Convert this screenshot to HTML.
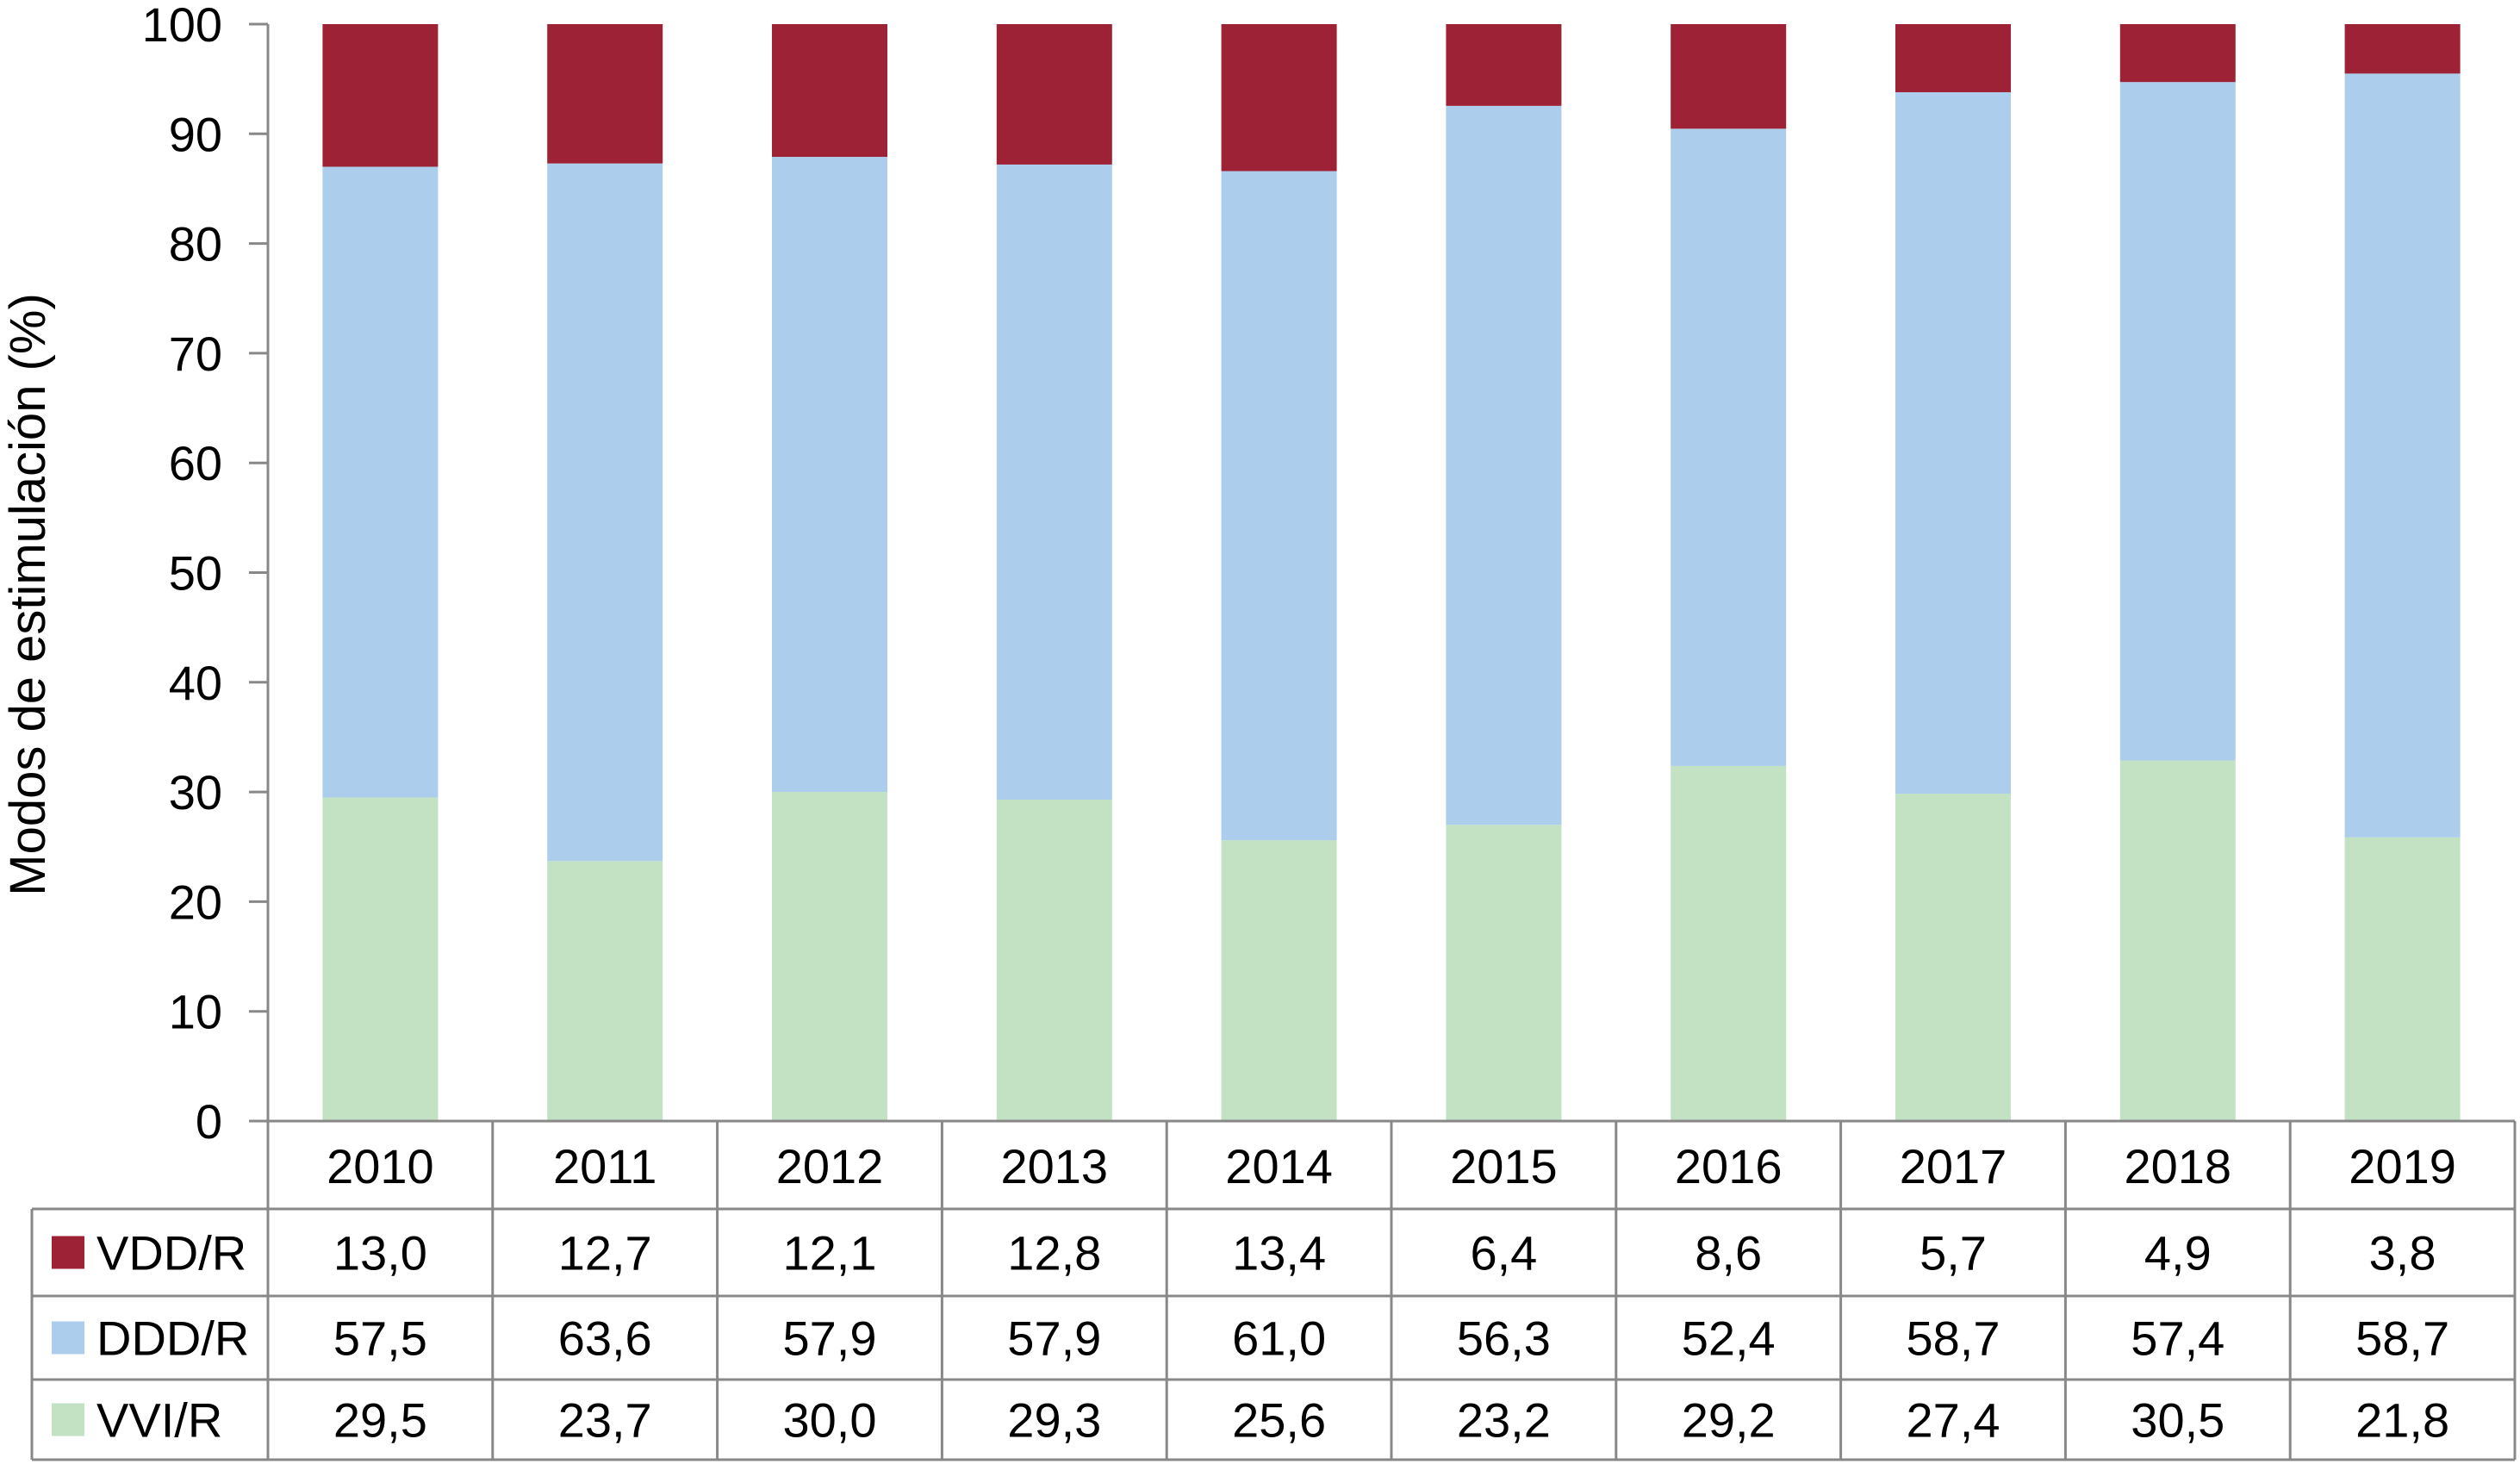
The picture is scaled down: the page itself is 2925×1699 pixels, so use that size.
<!DOCTYPE html>
<html><head><meta charset="utf-8"><style>
html,body{margin:0;padding:0;background:#fff;}
svg{display:block;font-family:"Liberation Sans",sans-serif;}
</style></head><body>
<svg id="chart" width="2925" height="1699" viewBox="0 0 2925 1699" xmlns="http://www.w3.org/2000/svg">
<text transform="translate(52,690) rotate(-90)" text-anchor="middle" font-size="58" fill="#000">Modos de estimulación (%)</text>
<g id="g"></g>
</svg>
<script>
const years = ["2010","2011","2012","2013","2014","2015","2016","2017","2018","2019"];
const vdd = [13.0,12.7,12.1,12.8,13.4,6.4,8.6,5.7,4.9,3.8];
const ddd = [57.5,63.6,57.9,57.9,61.0,56.3,52.4,58.7,57.4,58.7];
const vvi = [29.5,23.7,30.0,29.3,25.6,23.2,29.2,27.4,30.5,21.8];
const vddLabels = ["13,0","12,7","12,1","12,8","13,4","6,4","8,6","5,7","4,9","3,8"];
const dddLabels = ["57,5","63,6","57,9","57,9","61,0","56,3","52,4","58,7","57,4","58,7"];
const vviLabels = ["29,5","23,7","30,0","29,3","25,6","23,2","29,2","27,4","30,5","21,8"];
const yTicks = [0,10,20,30,40,50,60,70,80,90,100];

const NS="http://www.w3.org/2000/svg";
const g=document.getElementById('g');
const X0=311, X1=2919, Y0=1301, Y100=28;
const cw=(X1-X0)/years.length, bw=134;
const y=v=>Y0-(Y0-Y100)*v/100;
const xc=i=>X0+cw*(i+0.5);
function el(t,a){const e=document.createElementNS(NS,t);for(const k in a)e.setAttribute(k,a[k]);g.appendChild(e);return e;}
const colors={vdd:"#9E2236",ddd:"#ACCDEC",vvi:"#C3E2C4"};
years.forEach((yr,i)=>{
  const tot=vdd[i]+ddd[i]+vvi[i];
  let base=0;
  [["vvi",vvi[i]],["ddd",ddd[i]],["vdd",vdd[i]]].forEach(([k,v])=>{
    const p=v/tot*100;
    const r=el('rect',{x:xc(i)-bw/2,y:y(base+p),width:bw,height:y(base)-y(base+p),fill:colors[k]});
    
    
    base+=p;
  });
});
const ax=el('line',{x1:X0,y1:Y100,x2:X0,y2:Y0,stroke:"#888",'stroke-width':3});


yTicks.forEach(t=>{
  const tk=el('line',{x1:X0-22,y1:y(t),x2:X0,y2:y(t),stroke:"#888",'stroke-width':3});
  
  
  const tx=el('text',{x:258,y:y(t)+20,'text-anchor':'end','font-size':56,fill:'#000'});
  tx.textContent=t;
  
  
});
const rows=[1301,1403,1504,1601,1694];
const TL=37;
const st={stroke:"#888",'stroke-width':3};
function ln(x1,y1,x2,y2){const l=el('line',Object.assign({x1,y1,x2,y2},st));}
ln(X0,rows[0],X1,rows[0]);
for(let r=1;r<5;r++) ln(TL,rows[r],X1,rows[r]);
ln(TL,rows[1],TL,rows[4]);
for(let i=0;i<=years.length;i++) ln(X0+cw*i,rows[0],X0+cw*i,rows[4]);
function txt(x,yy,s,name,anchor){const t=el('text',{x,y:yy,'text-anchor':anchor||'middle','font-size':56,fill:'#000'});t.textContent=s;return t;}
years.forEach((yr,i)=>txt(xc(i),rows[0]+72,yr,'x-category-label'));
const series=[["VDD/R",vddLabels,"vdd"],["DDD/R",dddLabels,"ddd"],["VVI/R",vviLabels,"vvi"]];
series.forEach(([nm,labs,k],r)=>{
  const top=rows[r+1], h=rows[r+2]-top, mid=top+h/2+20;
  const sw=el('rect',{x:60,y:top+h/2-19,width:38,height:38,fill:colors[k]});
  
  
  txt(112,mid,nm,'legend-entry-'+k,'start');
  labs.forEach((s,i)=>txt(xc(i),mid,s,'table-value'));
});
</script>
</body></html>
